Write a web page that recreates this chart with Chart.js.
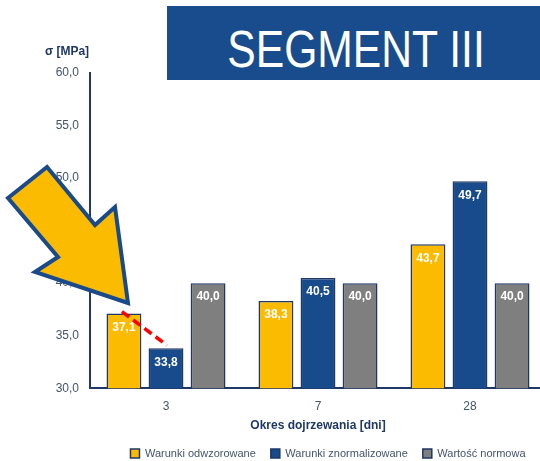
<!DOCTYPE html>
<html>
<head>
<meta charset="utf-8">
<script src="https://cdn.jsdelivr.net/npm/chart.js@4.4.1/dist/chart.umd.min.js"></script>
<style>
  html, body { margin: 0; padding: 0; background: #fff; overflow: hidden; }
  #wrap { position: relative; width: 540px; height: 461px; overflow: hidden; }
  #chart { position: absolute; left: 0; top: 0; }
  #banner { position: absolute; left: 167px; top: 6px; width: 380px; height: 74px; background: #184c8c; }
  #banner span {
    position: absolute; left: 189px; top: 17px; line-height: 52px; white-space: nowrap;
    font-family: "Liberation Sans", Arial, sans-serif; font-size: 52px; color: #fff;
    transform: translateX(-50%) scaleX(0.82);
  }
  #arrow { position: absolute; left: 0; top: 0; }
</style>
</head>
<body>
<div id="wrap">
  <canvas id="chart" width="546" height="469"></canvas>
  <div id="banner"><span>SEGMENT III</span></div>
  <svg id="arrow" width="540" height="461">
    <polygon points="47,167 8,198 58,257 35,272 128,303 115,207 95,225"
             fill="#fbbb00" stroke="#1b4a8a" stroke-width="4" stroke-linejoin="miter"/>
  </svg>
</div>
<script>
const categories = ['3', '7', '28'];
const seriesNames = ['Warunki odwzorowane', 'Warunki znormalizowane', 'Wartość normowa'];
const odwzorowane = [37.1, 38.3, 43.7];
const znormalizowane = [33.8, 40.5, 49.7];
const normowa = [40.0, 40.0, 40.0];
const seriesColors = ['#fbbb00', '#174b8b', '#7f7f7f'];

const FONT = '"Liberation Sans", Arial, sans-serif';
const fmt = v => v.toFixed(1).replace('.', ',');

// value labels inside bars, red dashed line and y axis caption
const extras = {
  id: 'extras',
  afterLayout(chart) {
    // legend sits a little right of the plot centre in the original
    chart.legend.left += 10;
    chart.legend.right += 10;
  },
  afterDatasetsDraw(chart) {
    const ctx = chart.ctx;
    ctx.save();
    ctx.font = 'bold 12px ' + FONT;
    ctx.fillStyle = '#ffffff';
    ctx.textAlign = 'center';
    ctx.textBaseline = 'middle';
    chart.data.datasets.forEach((ds, i) => {
      chart.getDatasetMeta(i).data.forEach((bar, j) => {
        ctx.fillText(fmt(ds.data[j]), bar.x, bar.y + 14);
      });
    });

    const a = chart.getDatasetMeta(0).data[0];
    const b = chart.getDatasetMeta(1).data[0];
    ctx.strokeStyle = '#ff0000';
    ctx.lineWidth = 3.5;
    ctx.setLineDash([9, 5]);
    ctx.beginPath();
    ctx.moveTo(a.x - 2, a.y - 2);
    ctx.lineTo(b.x + 1, b.y - 3);
    ctx.stroke();

    ctx.setLineDash([]);
    ctx.fillStyle = '#1f3864';
    ctx.fillText('σ [MPa]', chart.chartArea.left - 23, chart.chartArea.top - 21);
    ctx.restore();
  }
};

const common = { borderColor: '#1f3864', borderWidth: 1.5, categoryPercentage: 0.83, barPercentage: 0.83 };

new Chart(document.getElementById('chart'), {
  type: 'bar',
  data: {
    labels: categories,
    datasets: [
      { label: seriesNames[0], data: odwzorowane, backgroundColor: seriesColors[0], ...common },
      { label: seriesNames[1], data: znormalizowane, backgroundColor: seriesColors[1], ...common },
      { label: seriesNames[2], data: normowa, backgroundColor: seriesColors[2], ...common }
    ]
  },
  options: {
    responsive: false,
    animation: false,
    layout: { padding: { top: 73, left: 0, right: 0, bottom: 0 } },
    plugins: {
      tooltip: { enabled: false },
      legend: {
        position: 'bottom',
        fullSize: false,
        labels: {
          boxWidth: 9,
          boxHeight: 9,
          padding: 15,
          color: '#44546a',
          font: { family: FONT, size: 11 }
        }
      }
    },
    scales: {
      x: {
        grid: { display: false, drawTicks: false },
        border: { display: true, color: '#1f3864', width: 2 },
        ticks: { color: '#44546a', padding: 11, font: { family: FONT, size: 12 } },
        title: {
          display: true,
          text: 'Okres dojrzewania [dni]',
          color: '#1f3864',
          padding: { top: -6, bottom: 0 },
          font: { family: FONT, size: 12, weight: 'bold' }
        }
      },
      y: {
        min: 30,
        max: 60,
        grid: { display: false, drawTicks: false },
        border: { display: true, color: '#1f3864', width: 2 },
        ticks: {
          stepSize: 5,
          color: '#44546a',
          padding: 11,
          font: { family: FONT, size: 12 },
          callback: v => fmt(v)
        },
        afterFit: s => { s.width = 90; }
      }
    }
  },
  plugins: [extras]
});
</script>
</body>
</html>
